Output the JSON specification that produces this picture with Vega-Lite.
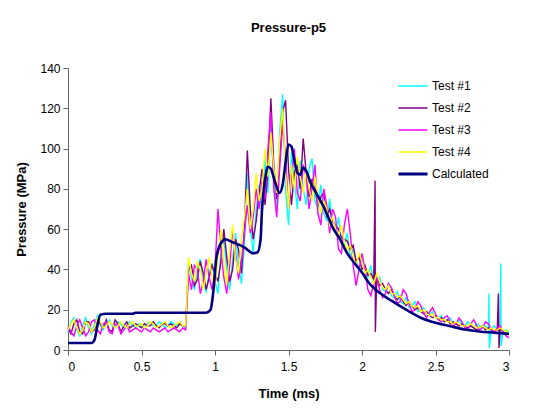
{
"$schema": "https://vega.github.io/schema/vega-lite/v6.json",
"width": 441,
"height": 282,
"autosize": {"type": "none"},
"padding": {"left": 68, "top": 68, "right": 43, "bottom": 69},
"background": "white",
"title": {"text": "Pressure-p5", "font": "Liberation Sans", "fontSize": 13, "fontWeight": "bold", "color": "black", "offset": 27, "anchor": "middle"},
"datasets": {
"t1": [{"t":0,"p":9},{"t":0.02,"p":14},{"t":0.04,"p":16},{"t":0.06,"p":10},{"t":0.08,"p":7},{"t":0.1,"p":12},{"t":0.12,"p":16},{"t":0.14,"p":11},{"t":0.16,"p":8},{"t":0.18,"p":13},{"t":0.2,"p":17},{"t":0.22,"p":12},{"t":0.24,"p":10},
{"t":0.26,"p":13},{"t":0.28,"p":15},{"t":0.3,"p":12},{"t":0.32,"p":11},{"t":0.34,"p":14},{"t":0.36,"p":13},{"t":0.38,"p":11},{"t":0.4,"p":12},{"t":0.42,"p":14},{"t":0.44,"p":12},{"t":0.46,"p":11},{"t":0.48,"p":13},{"t":0.5,"p":12},{"t":0.52,"p":11},{"t":0.54,"p":13},{"t":0.56,"p":14},{"t":0.58,"p":12},{"t":0.6,"p":12},{"t":0.62,"p":14},{"t":0.64,"p":13},{"t":0.66,"p":11},{"t":0.68,"p":12},{"t":0.7,"p":14},{"t":0.72,"p":13},{"t":0.74,"p":12},{"t":0.76,"p":14},{"t":0.78,"p":12},{"t":0.8,"p":11},
{"t":0.82,"p":44},{"t":0.84,"p":36},{"t":0.86,"p":30},{"t":0.88,"p":41},{"t":0.9,"p":45},{"t":0.92,"p":33},{"t":0.94,"p":29},{"t":0.96,"p":38},{"t":0.98,"p":43},{"t":1,"p":34},
{"t":1.02,"p":28},{"t":1.04,"p":48},{"t":1.06,"p":56},{"t":1.08,"p":40},{"t":1.1,"p":30},{"t":1.12,"p":45},{"t":1.14,"p":58},{"t":1.16,"p":42},{"t":1.18,"p":33},{"t":1.2,"p":52},
{"t":1.22,"p":88},{"t":1.24,"p":62},{"t":1.26,"p":48},{"t":1.28,"p":70},{"t":1.3,"p":82},{"t":1.32,"p":66},{"t":1.34,"p":96},{"t":1.36,"p":78},{"t":1.38,"p":112},{"t":1.4,"p":84},
{"t":1.42,"p":70},{"t":1.44,"p":108},{"t":1.46,"p":127},{"t":1.48,"p":80},{"t":1.5,"p":62},{"t":1.52,"p":98},{"t":1.54,"p":84},{"t":1.56,"p":70},{"t":1.58,"p":94},{"t":1.6,"p":80},
{"t":1.62,"p":72},{"t":1.64,"p":90},{"t":1.66,"p":95},{"t":1.68,"p":74},{"t":1.7,"p":70},{"t":1.72,"p":82},{"t":1.74,"p":68},{"t":1.76,"p":64},{"t":1.78,"p":75},{"t":1.8,"p":60},
{"t":1.82,"p":58},{"t":1.84,"p":66},{"t":1.86,"p":54},{"t":1.88,"p":52},{"t":1.9,"p":58},{"t":1.92,"p":46},{"t":1.94,"p":50},{"t":1.96,"p":44},{"t":1.98,"p":40},{"t":2,"p":46},
{"t":2.02,"p":38},{"t":2.04,"p":36},{"t":2.06,"p":42},{"t":2.08,"p":34},{"t":2.1,"p":32},{"t":2.12,"p":36},{"t":2.14,"p":30},{"t":2.16,"p":29},{"t":2.18,"p":33},{"t":2.2,"p":27},
{"t":2.22,"p":26},{"t":2.24,"p":29},{"t":2.26,"p":24},{"t":2.28,"p":23},{"t":2.3,"p":26},{"t":2.32,"p":21},{"t":2.34,"p":22},{"t":2.36,"p":24},{"t":2.38,"p":19},{"t":2.4,"p":20},
{"t":2.42,"p":21},{"t":2.44,"p":17},{"t":2.46,"p":18},{"t":2.48,"p":19},{"t":2.5,"p":16},{"t":2.52,"p":16},{"t":2.54,"p":17},{"t":2.56,"p":14},{"t":2.58,"p":15},{"t":2.6,"p":16},
{"t":2.62,"p":13},{"t":2.64,"p":13},{"t":2.66,"p":15},{"t":2.68,"p":12},{"t":2.7,"p":12},{"t":2.72,"p":14},{"t":2.74,"p":12},{"t":2.76,"p":11},{"t":2.78,"p":13},{"t":2.8,"p":12},
{"t":2.82,"p":11},{"t":2.84,"p":12},{"t":2.86,"p":10},{"t":2.864,"p":28},{"t":2.866,"p":1},{"t":2.88,"p":11},{"t":2.9,"p":12},{"t":2.92,"p":10},{"t":2.94,"p":11},{"t":2.944,"p":43},{"t":2.946,"p":2},{"t":2.96,"p":9},{"t":2.98,"p":10},{"t":3,"p":9}],
"t2": [{"t":0,"p":11},{"t":0.02,"p":8},{"t":0.04,"p":13},{"t":0.06,"p":15},{"t":0.08,"p":9},{"t":0.1,"p":8},{"t":0.12,"p":14},{"t":0.14,"p":14},{"t":0.16,"p":9},{"t":0.18,"p":10},{"t":0.2,"p":15},{"t":0.22,"p":13},{"t":0.24,"p":11},
{"t":0.26,"p":15},{"t":0.28,"p":10},{"t":0.3,"p":9},{"t":0.32,"p":15},{"t":0.34,"p":13},{"t":0.36,"p":9},{"t":0.38,"p":12},{"t":0.4,"p":14},{"t":0.42,"p":11},{"t":0.44,"p":12},{"t":0.46,"p":13},{"t":0.48,"p":12},{"t":0.5,"p":11},{"t":0.52,"p":13},{"t":0.54,"p":12},{"t":0.56,"p":12},{"t":0.58,"p":14},{"t":0.6,"p":12},{"t":0.62,"p":11},{"t":0.64,"p":13},{"t":0.66,"p":13},{"t":0.68,"p":12},{"t":0.7,"p":13},{"t":0.72,"p":12},{"t":0.74,"p":11},{"t":0.76,"p":13},{"t":0.78,"p":12},{"t":0.8,"p":12},
{"t":0.82,"p":40},{"t":0.84,"p":42},{"t":0.86,"p":32},{"t":0.88,"p":35},{"t":0.9,"p":44},{"t":0.92,"p":38},{"t":0.94,"p":30},{"t":0.96,"p":36},{"t":0.98,"p":42},{"t":1,"p":38},
{"t":1.02,"p":34},{"t":1.04,"p":44},{"t":1.06,"p":60},{"t":1.08,"p":46},{"t":1.1,"p":34},{"t":1.12,"p":40},{"t":1.14,"p":55},{"t":1.16,"p":50},{"t":1.18,"p":38},{"t":1.2,"p":60},
{"t":1.22,"p":99},{"t":1.24,"p":70},{"t":1.26,"p":55},{"t":1.28,"p":64},{"t":1.3,"p":78},{"t":1.32,"p":90},{"t":1.34,"p":72},{"t":1.36,"p":88},{"t":1.38,"p":125},{"t":1.4,"p":92},
{"t":1.42,"p":75},{"t":1.44,"p":95},{"t":1.46,"p":118},{"t":1.48,"p":124},{"t":1.5,"p":90},{"t":1.52,"p":72},{"t":1.54,"p":88},{"t":1.56,"p":92},{"t":1.58,"p":80},{"t":1.6,"p":105},
{"t":1.62,"p":88},{"t":1.64,"p":76},{"t":1.66,"p":85},{"t":1.68,"p":80},{"t":1.7,"p":72},{"t":1.72,"p":76},{"t":1.74,"p":78},{"t":1.76,"p":66},{"t":1.78,"p":70},{"t":1.8,"p":64},
{"t":1.82,"p":62},{"t":1.84,"p":60},{"t":1.86,"p":56},{"t":1.88,"p":55},{"t":1.9,"p":54},{"t":1.92,"p":50},{"t":1.94,"p":52},{"t":1.96,"p":44},{"t":1.98,"p":46},{"t":2,"p":40},
{"t":2.02,"p":42},{"t":2.04,"p":37},{"t":2.06,"p":38},{"t":2.08,"p":35},{"t":2.089,"p":84},{"t":2.091,"p":9},{"t":2.1,"p":36},{"t":2.12,"p":32},{"t":2.14,"p":33},{"t":2.16,"p":30},{"t":2.18,"p":28},{"t":2.2,"p":30},
{"t":2.22,"p":27},{"t":2.24,"p":25},{"t":2.26,"p":27},{"t":2.28,"p":24},{"t":2.3,"p":22},{"t":2.32,"p":24},{"t":2.34,"p":22},{"t":2.36,"p":20},{"t":2.38,"p":21},{"t":2.4,"p":19},
{"t":2.42,"p":18},{"t":2.44,"p":19},{"t":2.46,"p":17},{"t":2.48,"p":16},{"t":2.5,"p":17},{"t":2.52,"p":15},{"t":2.54,"p":16},{"t":2.56,"p":14},{"t":2.58,"p":15},{"t":2.6,"p":13},
{"t":2.62,"p":14},{"t":2.64,"p":13},{"t":2.66,"p":12},{"t":2.68,"p":13},{"t":2.7,"p":12},{"t":2.72,"p":11},{"t":2.74,"p":12},{"t":2.76,"p":11},{"t":2.78,"p":10},{"t":2.8,"p":11},
{"t":2.82,"p":12},{"t":2.84,"p":10},{"t":2.86,"p":11},{"t":2.88,"p":10},{"t":2.9,"p":9},{"t":2.92,"p":10},{"t":2.928,"p":28},{"t":2.932,"p":1},{"t":2.94,"p":11},{"t":2.96,"p":9},{"t":2.98,"p":8},{"t":3,"p":8}],
"t3": [{"t":0,"p":12},{"t":0.02,"p":9},{"t":0.04,"p":7},{"t":0.06,"p":12},{"t":0.08,"p":15},{"t":0.1,"p":11},{"t":0.12,"p":7},{"t":0.14,"p":9},{"t":0.16,"p":14},{"t":0.18,"p":15},{"t":0.2,"p":10},{"t":0.22,"p":8},{"t":0.24,"p":13},
{"t":0.26,"p":14},{"t":0.28,"p":9},{"t":0.3,"p":8},{"t":0.32,"p":13},{"t":0.34,"p":12},{"t":0.36,"p":8},{"t":0.38,"p":10},{"t":0.4,"p":12},{"t":0.42,"p":9},{"t":0.44,"p":10},{"t":0.46,"p":11},{"t":0.48,"p":10},{"t":0.5,"p":9},{"t":0.52,"p":11},{"t":0.54,"p":10},{"t":0.56,"p":9},{"t":0.58,"p":11},{"t":0.6,"p":10},{"t":0.62,"p":9},{"t":0.64,"p":10},{"t":0.66,"p":11},{"t":0.68,"p":9},{"t":0.7,"p":10},{"t":0.72,"p":11},{"t":0.74,"p":10},{"t":0.76,"p":9},{"t":0.78,"p":11},{"t":0.8,"p":10},
{"t":0.82,"p":38},{"t":0.84,"p":30},{"t":0.86,"p":42},{"t":0.88,"p":40},{"t":0.9,"p":28},{"t":0.92,"p":34},{"t":0.94,"p":45},{"t":0.96,"p":36},{"t":0.98,"p":30},{"t":1,"p":40},
{"t":1.02,"p":70},{"t":1.04,"p":50},{"t":1.06,"p":36},{"t":1.08,"p":28},{"t":1.1,"p":42},{"t":1.12,"p":60},{"t":1.14,"p":48},{"t":1.16,"p":35},{"t":1.18,"p":44},{"t":1.2,"p":58},
{"t":1.22,"p":72},{"t":1.24,"p":58},{"t":1.26,"p":66},{"t":1.28,"p":80},{"t":1.3,"p":70},{"t":1.32,"p":84},{"t":1.34,"p":75},{"t":1.36,"p":100},{"t":1.38,"p":118},{"t":1.4,"p":80},
{"t":1.42,"p":66},{"t":1.44,"p":90},{"t":1.46,"p":112},{"t":1.48,"p":96},{"t":1.5,"p":70},{"t":1.52,"p":85},{"t":1.54,"p":100},{"t":1.56,"p":78},{"t":1.58,"p":74},{"t":1.6,"p":92},
{"t":1.62,"p":86},{"t":1.64,"p":70},{"t":1.66,"p":80},{"t":1.68,"p":92},{"t":1.7,"p":68},{"t":1.72,"p":62},{"t":1.74,"p":80},{"t":1.76,"p":72},{"t":1.78,"p":58},{"t":1.8,"p":70},
{"t":1.82,"p":66},{"t":1.84,"p":50},{"t":1.86,"p":48},{"t":1.88,"p":62},{"t":1.9,"p":70},{"t":1.92,"p":58},{"t":1.94,"p":42},{"t":1.96,"p":32},{"t":1.98,"p":40},{"t":2,"p":48},
{"t":2.02,"p":40},{"t":2.04,"p":30},{"t":2.06,"p":27},{"t":2.08,"p":33},{"t":2.1,"p":36},{"t":2.12,"p":30},{"t":2.14,"p":26},{"t":2.16,"p":28},{"t":2.18,"p":33},{"t":2.2,"p":31},
{"t":2.22,"p":27},{"t":2.24,"p":23},{"t":2.26,"p":24},{"t":2.28,"p":30},{"t":2.3,"p":28},{"t":2.32,"p":23},{"t":2.34,"p":19},{"t":2.36,"p":20},{"t":2.38,"p":24},{"t":2.4,"p":22},
{"t":2.42,"p":18},{"t":2.44,"p":16},{"t":2.46,"p":19},{"t":2.48,"p":21},{"t":2.5,"p":18},{"t":2.52,"p":15},{"t":2.54,"p":14},{"t":2.56,"p":16},{"t":2.58,"p":17},{"t":2.6,"p":14},
{"t":2.62,"p":12},{"t":2.64,"p":13},{"t":2.66,"p":16},{"t":2.68,"p":14},{"t":2.7,"p":11},{"t":2.72,"p":10},{"t":2.74,"p":13},{"t":2.76,"p":15},{"t":2.78,"p":12},{"t":2.8,"p":10},
{"t":2.82,"p":11},{"t":2.84,"p":14},{"t":2.86,"p":13},{"t":2.88,"p":10},{"t":2.9,"p":9},{"t":2.92,"p":11},{"t":2.94,"p":12},{"t":2.96,"p":9},{"t":2.98,"p":7},{"t":3,"p":6}],
"t4": [{"t":0,"p":10},{"t":0.02,"p":13},{"t":0.04,"p":15},{"t":0.06,"p":11},{"t":0.08,"p":8},{"t":0.1,"p":10},{"t":0.12,"p":14},{"t":0.14,"p":13},{"t":0.16,"p":9},{"t":0.18,"p":11},{"t":0.2,"p":16},{"t":0.22,"p":14},{"t":0.24,"p":11},
{"t":0.26,"p":12},{"t":0.28,"p":14},{"t":0.3,"p":13},{"t":0.32,"p":11},{"t":0.34,"p":12},{"t":0.36,"p":14},{"t":0.38,"p":12},{"t":0.4,"p":11},{"t":0.42,"p":13},{"t":0.44,"p":14},{"t":0.46,"p":12},{"t":0.48,"p":12},{"t":0.5,"p":13},{"t":0.52,"p":11},{"t":0.54,"p":12},{"t":0.56,"p":14},{"t":0.58,"p":13},{"t":0.6,"p":11},{"t":0.62,"p":12},{"t":0.64,"p":13},{"t":0.66,"p":14},{"t":0.68,"p":12},{"t":0.7,"p":11},{"t":0.72,"p":12},{"t":0.74,"p":13},{"t":0.76,"p":14},{"t":0.78,"p":12},{"t":0.8,"p":12},
{"t":0.82,"p":46},{"t":0.84,"p":38},{"t":0.86,"p":34},{"t":0.88,"p":44},{"t":0.9,"p":40},{"t":0.92,"p":30},{"t":0.94,"p":38},{"t":0.96,"p":46},{"t":0.98,"p":36},{"t":1,"p":32},
{"t":1.02,"p":45},{"t":1.04,"p":60},{"t":1.06,"p":44},{"t":1.08,"p":32},{"t":1.1,"p":50},{"t":1.12,"p":62},{"t":1.14,"p":45},{"t":1.16,"p":38},{"t":1.18,"p":55},{"t":1.2,"p":66},
{"t":1.22,"p":80},{"t":1.24,"p":60},{"t":1.26,"p":70},{"t":1.28,"p":88},{"t":1.3,"p":74},{"t":1.32,"p":80},{"t":1.34,"p":100},{"t":1.36,"p":86},{"t":1.38,"p":108},{"t":1.4,"p":90},
{"t":1.42,"p":78},{"t":1.44,"p":104},{"t":1.46,"p":120},{"t":1.48,"p":88},{"t":1.5,"p":70},{"t":1.52,"p":92},{"t":1.54,"p":80},{"t":1.56,"p":96},{"t":1.58,"p":86},{"t":1.6,"p":78},
{"t":1.62,"p":90},{"t":1.64,"p":80},{"t":1.66,"p":74},{"t":1.68,"p":86},{"t":1.7,"p":76},{"t":1.72,"p":68},{"t":1.74,"p":74},{"t":1.76,"p":70},{"t":1.78,"p":62},{"t":1.8,"p":66},
{"t":1.82,"p":60},{"t":1.84,"p":56},{"t":1.86,"p":62},{"t":1.88,"p":54},{"t":1.9,"p":50},{"t":1.92,"p":52},{"t":1.94,"p":46},{"t":1.96,"p":42},{"t":1.98,"p":48},{"t":2,"p":44},
{"t":2.02,"p":38},{"t":2.04,"p":40},{"t":2.06,"p":36},{"t":2.08,"p":33},{"t":2.1,"p":38},{"t":2.12,"p":34},{"t":2.14,"p":31},{"t":2.16,"p":30},{"t":2.18,"p":32},{"t":2.2,"p":28},
{"t":2.22,"p":28},{"t":2.24,"p":26},{"t":2.26,"p":27},{"t":2.28,"p":25},{"t":2.3,"p":23},{"t":2.32,"p":24},{"t":2.34,"p":22},{"t":2.36,"p":21},{"t":2.38,"p":22},{"t":2.4,"p":19},
{"t":2.42,"p":20},{"t":2.44,"p":18},{"t":2.46,"p":17},{"t":2.48,"p":18},{"t":2.5,"p":16},{"t":2.52,"p":16},{"t":2.54,"p":15},{"t":2.56,"p":15},{"t":2.58,"p":14},{"t":2.6,"p":14},
{"t":2.62,"p":13},{"t":2.64,"p":14},{"t":2.66,"p":13},{"t":2.68,"p":12},{"t":2.7,"p":12},{"t":2.72,"p":12},{"t":2.74,"p":13},{"t":2.76,"p":12},{"t":2.78,"p":11},{"t":2.8,"p":11},
{"t":2.82,"p":12},{"t":2.84,"p":11},{"t":2.86,"p":10},{"t":2.88,"p":11},{"t":2.9,"p":10},{"t":2.92,"p":10},{"t":2.94,"p":11},{"t":2.96,"p":10},{"t":2.98,"p":9},{"t":3,"p":10}],
"calc": [{"t":0,"p":3.5},{"t":0.16,"p":3.5},{"t":0.18,"p":5},{"t":0.2,"p":12},{"t":0.22,"p":17.5},{"t":0.26,"p":18},{"t":0.44,"p":18},{"t":0.46,"p":18.5},{"t":0.94,"p":18.5},{"t":0.97,"p":20},{"t":0.99,"p":30},{"t":1.01,"p":46},{"t":1.04,"p":53},{"t":1.07,"p":55},{"t":1.12,"p":53.5},{"t":1.2,"p":51},{"t":1.26,"p":48},{"t":1.29,"p":48.5},{"t":1.31,"p":55},{"t":1.32,"p":70},{"t":1.34,"p":84},{"t":1.36,"p":91},{"t":1.38,"p":90},{"t":1.41,"p":83},{"t":1.44,"p":78},{"t":1.46,"p":82},{"t":1.48,"p":93},{"t":1.5,"p":102},{"t":1.52,"p":101},{"t":1.54,"p":94},{"t":1.56,"p":88},{"t":1.58,"p":87},{"t":1.6,"p":90.5},{"t":1.62,"p":89},{"t":1.65,"p":83},{"t":1.68,"p":79},{"t":1.71,"p":75},{"t":1.74,"p":71},{"t":1.77,"p":66},{"t":1.8,"p":61},{"t":1.85,"p":55},{"t":1.9,"p":48},{"t":1.95,"p":43},{"t":2,"p":38.5},{"t":2.05,"p":33},{"t":2.1,"p":29.5},{"t":2.2,"p":24.5},{"t":2.3,"p":20},{"t":2.4,"p":16},{"t":2.5,"p":13.5},{"t":2.6,"p":11.8},{"t":2.7,"p":10.2},{"t":2.8,"p":9.2},{"t":2.9,"p":8.6},{"t":3,"p":8}]
},
"encoding": {
  "x": {"field": "t", "type": "quantitative", "scale": {"domain": [0, 3], "nice": false}, "axis": {"title": "Time (ms)", "values": [0, 0.5, 1, 1.5, 2, 2.5, 3], "format": "~g", "labelPadding": 6, "titlePadding": 15}},
  "y": {"field": "p", "type": "quantitative", "scale": {"domain": [0, 140], "nice": false}, "axis": {"title": "Pressure (MPa)", "values": [0, 20, 40, 60, 80, 100, 120, 140], "labelPadding": 3, "titlePadding": 11}}
},
"layer": [
  {"data": {"name": "t1"}, "mark": {"type": "line", "strokeWidth": 1.4},
   "encoding": {"color": {"datum": "Test #1", "type": "nominal",
     "scale": {"domain": ["Test #1", "Test #2", "Test #3", "Test #4", "Calculated"], "range": ["#00FFFF", "#800080", "#FF00FF", "#FFFF00", "#000080"]},
     "legend": {"title": null, "orient": "none", "legendX": 339, "legendY": 12, "symbolType": "stroke", "symbolSize": 841, "symbolStrokeWidth": 1.5, "labelFont": "Liberation Sans", "labelFontSize": 12, "labelColor": "black", "rowPadding": 10, "labelOffset": 13,
       "encode": {"symbols": {"update": {"strokeWidth": {"signal": "datum.value === 'Calculated' ? 3 : 1.5"}}}}}}}},
  {"data": {"name": "t2"}, "mark": {"type": "line", "strokeWidth": 1.4}, "encoding": {"color": {"datum": "Test #2", "type": "nominal"}}},
  {"data": {"name": "t3"}, "mark": {"type": "line", "strokeWidth": 1.4}, "encoding": {"color": {"datum": "Test #3", "type": "nominal"}}},
  {"data": {"name": "t4"}, "mark": {"type": "line", "strokeWidth": 1.4}, "encoding": {"color": {"datum": "Test #4", "type": "nominal"}}},
  {"data": {"name": "calc"}, "mark": {"type": "line", "strokeWidth": 2.6, "interpolate": "monotone"}, "encoding": {"color": {"datum": "Calculated", "type": "nominal"}}}
],
"config": {
  "view": {"stroke": null},
  "axis": {"grid": false, "domainColor": "#666666", "tickColor": "#666666", "tickSize": 5, "labelFont": "Liberation Sans", "labelFontSize": 12, "labelColor": "black", "titleFont": "Liberation Sans", "titleFontSize": 13, "titleFontWeight": "bold", "titleColor": "black"}
}
}
